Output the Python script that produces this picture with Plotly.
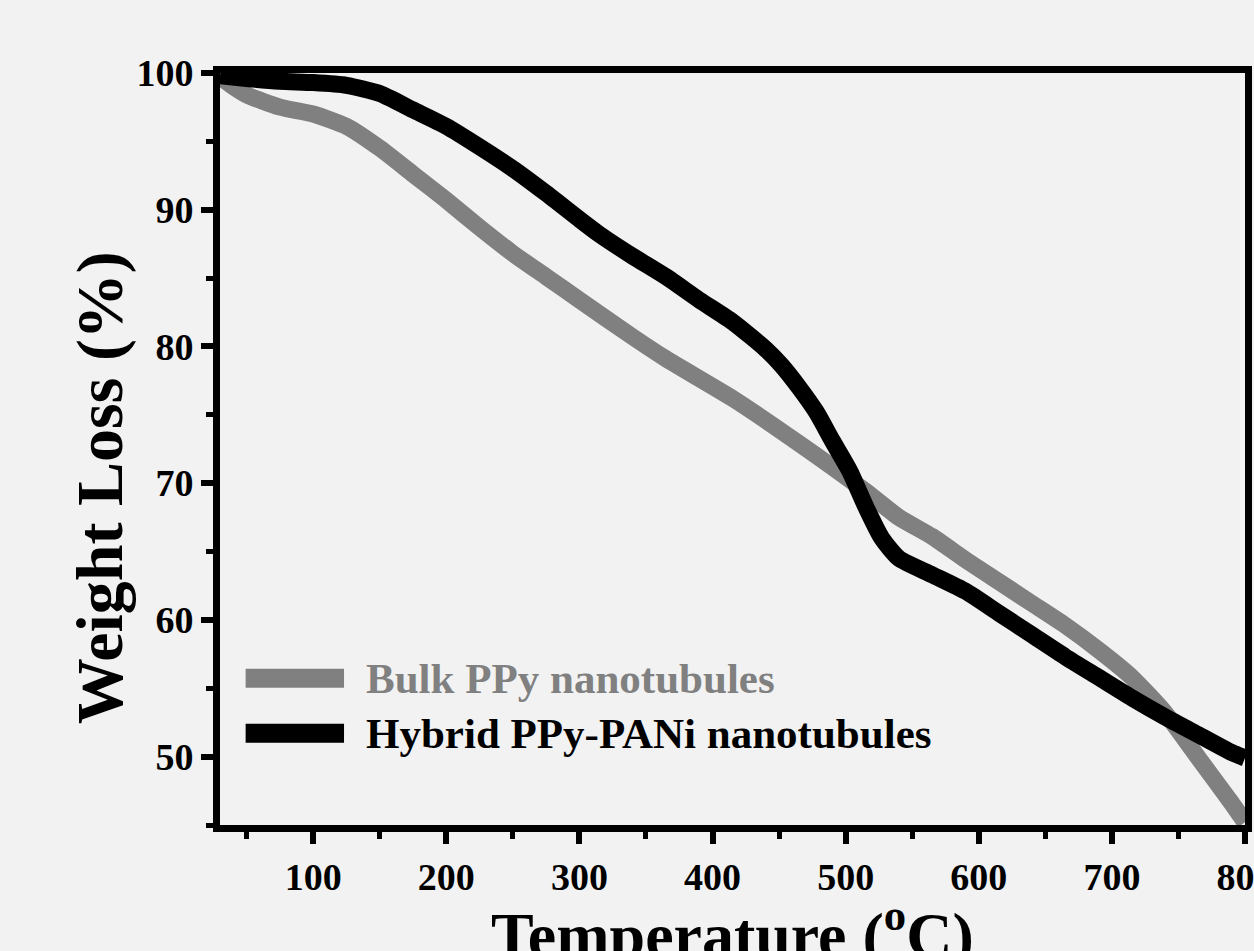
import plotly.graph_objects as go

# ---- data ----
temp_hybrid = [30, 50, 75, 100, 125, 150, 175, 200, 225, 250, 275, 300, 315, 340, 365, 390,
               415, 440, 452, 465, 478, 490, 503, 515, 527, 540, 565, 590, 615, 640, 665,
               690, 715, 740, 765, 790, 800]
wt_hybrid = [99.8, 99.6, 99.4, 99.3, 99.1, 98.5, 97.3, 96.1, 94.6, 93.0, 91.2, 89.3, 88.2, 86.6,
             85.1, 83.4, 81.8, 79.8, 78.6, 77.0, 75.2, 73.1, 70.9, 68.3, 66.0, 64.5, 63.3, 62.1,
             60.5, 58.9, 57.3, 55.8, 54.3, 52.9, 51.6, 50.3, 49.9]

temp_bulk = [30, 40, 50, 75, 100, 125, 150, 175, 200, 225, 250, 275, 300, 340, 365, 415, 465,
             515, 540, 565, 590, 615, 640, 665, 690, 715, 740, 765, 790, 800]
wt_bulk = [99.7, 99.0, 98.4, 97.5, 97.0, 96.1, 94.5, 92.6, 90.7, 88.7, 86.8, 85.1, 83.4, 80.7,
           79.1, 76.2, 72.9, 69.4, 67.5, 66.1, 64.4, 62.8, 61.2, 59.6, 57.8, 55.8, 53.2, 49.9,
           46.6, 45.2]

series_names = ["Bulk PPy nanotubules", "Hybrid PPy-PANi nanotubules"]
series_colors = ["#808080", "#000000"]

x_ticks = [100, 200, 300, 400, 500, 600, 700, 800]
y_ticks = [50, 60, 70, 80, 90, 100]

FONT = "Liberation Serif"
BG = "#f2f2f2"

fig = go.Figure()
fig.add_trace(go.Scatter(x=temp_bulk, y=wt_bulk, mode="lines", name=series_names[0],
                         line=dict(color=series_colors[0], width=17, shape="spline", smoothing=0.6),
                         showlegend=False))
fig.add_trace(go.Scatter(x=temp_hybrid, y=wt_hybrid, mode="lines", name=series_names[1],
                         line=dict(color=series_colors[1], width=17, shape="spline", smoothing=0.6),
                         showlegend=False))

axis_common = dict(
    showline=True, linewidth=7, linecolor="black", mirror=True,
    ticks="outside", ticklen=12, tickwidth=6, tickcolor="black",
    showgrid=False, zeroline=False, ticklabeloverflow="allow", automargin=False,
    tickfont=dict(family=FONT, size=38, color="black", weight="bold"),
)

fig.update_xaxes(range=[30, 800], tickvals=x_ticks,
                 minor=dict(ticks="outside", ticklen=7, tickwidth=5, dtick=50, tick0=0,
                            tickcolor="black", showgrid=False),
                 **axis_common)
fig.update_yaxes(range=[45, 100], tickvals=y_ticks,
                 minor=dict(ticks="outside", ticklen=7, tickwidth=5, dtick=5, tick0=0,
                            tickcolor="black", showgrid=False),
                 **axis_common)

# manual legend
legend_rows = [0.195, 0.122]
for name, color, yy in zip(series_names, series_colors, legend_rows):
    fig.add_shape(type="line", xref="paper", yref="paper", x0=0.025, x1=0.121, y0=yy, y1=yy,
                  line=dict(color=color, width=19))
    fig.add_annotation(xref="paper", yref="paper", x=0.14, y=yy, xanchor="left", yanchor="middle",
                       text=name, showarrow=False,
                       font=dict(family=FONT, size=43, color=color, weight="bold"))

# axis titles
fig.add_annotation(xref="paper", yref="paper", x=-0.117, y=0.448, xanchor="center", yanchor="middle",
                   textangle=-90, text="Weight Loss (%)", showarrow=False,
                   font=dict(family=FONT, size=66, color="black", weight="bold"))
fig.add_annotation(xref="paper", yref="paper", x=0.5, y=-0.084, xanchor="center", yanchor="top",
                   text="Temperature (<sup>o</sup>C)", showarrow=False,
                   font=dict(family=FONT, size=64, color="black", weight="bold"))

fig.update_layout(
    width=1254, height=951,
    margin=dict(l=220, r=9, t=73, b=126),
    paper_bgcolor=BG, plot_bgcolor=BG,
    showlegend=False,
)

fig.write_html("out.html")
